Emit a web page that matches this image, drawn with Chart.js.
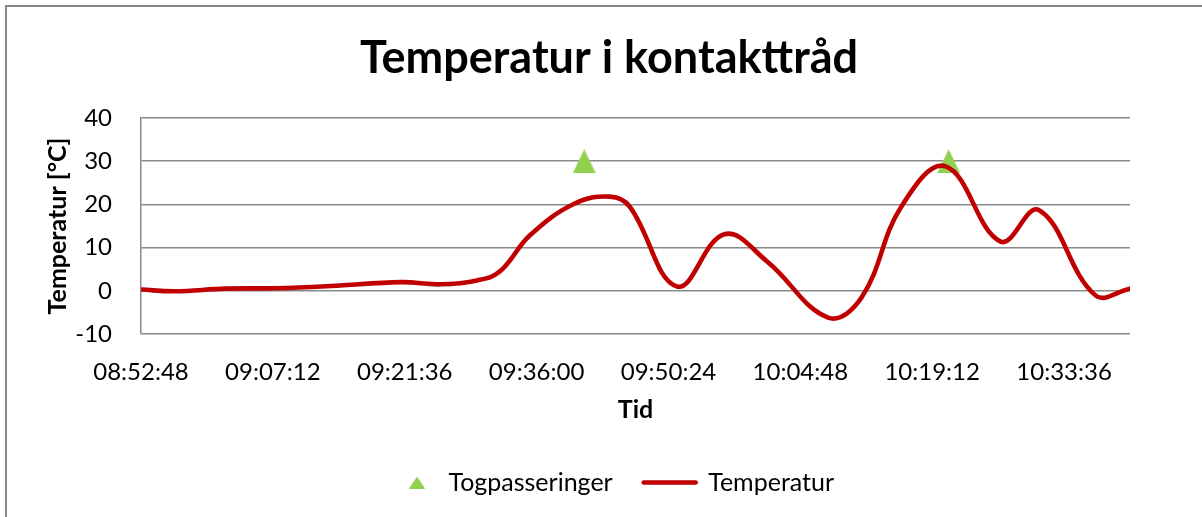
<!DOCTYPE html>
<html>
<head>
<meta charset="utf-8">
<script src="https://cdn.jsdelivr.net/npm/chart.js@4.4.1/dist/chart.umd.min.js"></script>
<style>
  html, body { margin: 0; padding: 0; background: #fff; }
  body { width: 1202px; height: 517px; overflow: hidden; position: relative; }
  .frame { position: absolute; left: 5px; top: 5px; width: 1300px; height: 600px; border: 2px solid #888; }
  #chart-temp { position: absolute; left: 0; top: 0; }
</style>
</head>
<body>
<div class="frame"></div>
<canvas id="chart-temp" width="1218" height="517"></canvas>
<script>
// Måleserie: temperatur i kontakttråd
const tempTimes = [
  '08:52:48', '08:56:30', '09:02:00', '09:07:30', '09:13:30', '09:21:15',
  '09:25:30', '09:29:30', '09:32:00', '09:35:15', '09:40:10', '09:44:00',
  '09:46:10', '09:51:20', '09:56:30', '10:01:10', '10:07:50', '10:11:30',
  '10:15:50', '10:20:40', '10:26:40', '10:30:50', '10:37:00', '10:40:48'
];
const tempValues = [
  0.3, -0.1, 0.5, 0.6, 1.1, 2.0,
  1.5, 2.4, 4.5, 12.8, 20.2, 21.8,
  19.5, 1.0, 13.1, 6.8, -6.2, -1.5,
  19.5, 28.8, 11.4, 18.7, -1.0, 0.5
];

// Togpasseringer
const trainTimes = ['09:41:12', '10:21:00'];
const trainValues = [30, 30];

// Akser
const xMin = '08:52:48';
const xMax = '10:40:48';
const xTickLabels = [
  '08:52:48', '09:07:12', '09:21:36', '09:36:00',
  '09:50:24', '10:04:48', '10:19:12', '10:33:36'
];
const yMin = -10;
const yMax = 40;
const yStep = 10;

const RED = '#C00000';
const GREEN = '#92D050';
const GRID = '#8a8a8a';
const FONT = 'Lato';

function toSec(t) {
  const [h, m, s] = t.split(':').map(Number);
  return h * 3600 + m * 60 + s;
}

function fmtTime(v) {
  const h = Math.floor(v / 3600);
  const m = Math.floor((v % 3600) / 60);
  const s = Math.round(v % 60);
  return [h, m, s].map(n => String(n).padStart(2, '0')).join(':');
}

// Trekant-markør som bilde (bredere enn Chart.js sin likesidede).
// offsetX gir tom plass til venstre, så trekanten flyttes mot teksten i legenden.
function makeTriangle(w, h, color, offsetX = 0) {
  const c = document.createElement('canvas');
  c.width = w + offsetX;
  c.height = h;
  const ctx = c.getContext('2d');
  ctx.fillStyle = color;
  ctx.beginPath();
  ctx.moveTo(offsetX + w / 2, 0);
  ctx.lineTo(offsetX + w, h);
  ctx.lineTo(offsetX, h);
  ctx.closePath();
  ctx.fill();
  return c;
}

const triangleMarker = makeTriangle(23, 24, GREEN);
const triangleLegend = makeTriangle(16, 12, GREEN, 14);

new Chart(document.getElementById('chart-temp'), {
  type: 'line',
  data: {
    datasets: [
      {
        label: 'Togpasseringer',
        data: trainTimes.map((t, i) => ({ x: toSec(t), y: trainValues[i] })),
        showLine: false,
        pointStyle: triangleMarker,
        pointRadius: 12,
        backgroundColor: GREEN,
        borderColor: GREEN,
        order: 1
      },
      {
        label: 'Temperatur',
        data: tempTimes.map((t, i) => ({ x: toSec(t), y: tempValues[i] })),
        borderColor: RED,
        backgroundColor: RED,
        borderWidth: 4.6,
        borderCapStyle: 'round',
        borderJoinStyle: 'round',
        pointRadius: 0,
        tension: 0.4,
        fill: false,
        order: 0
      }
    ]
  },
  options: {
    responsive: false,
    animation: false,
    layout: {
      padding: { left: 0, right: 0, top: 0, bottom: 12 }
    },
    scales: {
      x: {
        type: 'linear',
        min: toSec(xMin),
        max: toSec(xMax),
        afterFit: scale => { scale.height = 105; },
        afterBuildTicks: scale => {
          scale.ticks = xTickLabels.map(t => ({ value: toSec(t) }));
        },
        grid: { display: false, drawTicks: false },
        border: { display: false },
        ticks: {
          autoSkip: false,
          maxRotation: 0,
          padding: 24,
          color: '#000',
          font: { family: FONT, size: 24 },
          callback: value => fmtTime(value)
        },
        title: {
          display: true,
          text: 'Tid',
          color: '#000',
          font: { family: FONT, size: 25, weight: 'bold' },
          padding: { top: 0, bottom: 14 }
        }
      },
      y: {
        min: yMin,
        max: yMax,
        afterFit: scale => { scale.width = 141; },
        grid: { color: GRID, lineWidth: 1.5, drawTicks: false },
        border: { display: true, color: GRID, width: 1.5 },
        ticks: {
          stepSize: yStep,
          padding: 29,
          color: '#000',
          font: { family: FONT, size: 24 }
        },
        title: {
          display: true,
          text: 'Temperatur [°C]',
          color: '#000',
          font: { family: FONT, size: 25, weight: 'bold' },
          padding: { top: 43, bottom: 0 }
        }
      },
      // tom marg til høyre for plottet
      yRight: {
        position: 'right',
        afterFit: scale => { scale.width = 88; },
        grid: { display: false },
        border: { display: false },
        ticks: { display: false }
      }
    },
    plugins: {
      title: {
        display: true,
        text: 'Temperatur i kontakttråd',
        color: '#000',
        font: { family: FONT, size: 45, weight: 'bold' },
        padding: { top: 31, bottom: 33 }
      },
      legend: {
        position: 'bottom',
        labels: {
          usePointStyle: true,
          pointStyleWidth: 52,
          padding: 31,
          color: '#000',
          font: { family: FONT, size: 25 },
          generateLabels: chart => chart.data.datasets.map((ds, i) => ({
            text: ds.label,
            datasetIndex: i,
            pointStyle: i === 0 ? triangleLegend : 'line',
            fillStyle: ds.backgroundColor,
            strokeStyle: ds.borderColor,
            lineWidth: i === 0 ? 0 : 4.6,
            lineCap: 'round',
            fontColor: '#000',
            hidden: false
          }))
        }
      },
      tooltip: { enabled: false }
    }
  }
});
</script>
</body>
</html>
